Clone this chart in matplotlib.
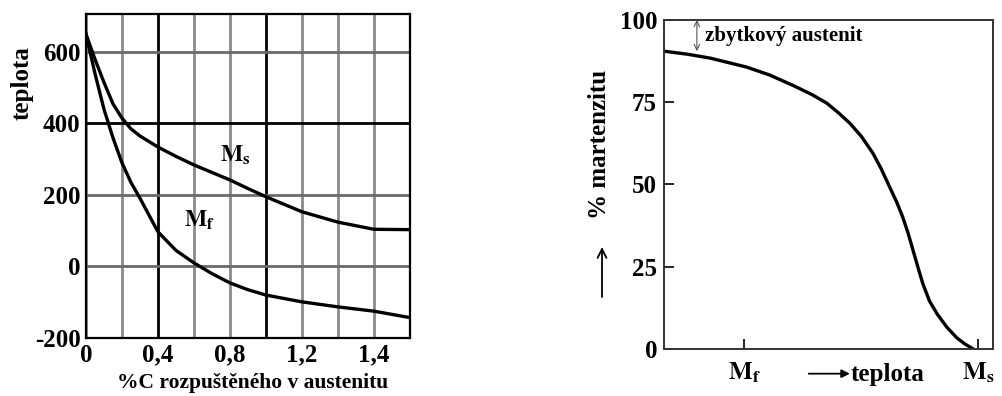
import numpy as np
import matplotlib
matplotlib.use("Agg")
import matplotlib.pyplot as plt

plt.rcParams["font.family"] = ["Liberation Serif", "DejaVu Serif"]
plt.rcParams["font.weight"] = "bold"
plt.rcParams["mathtext.fontset"] = "stix"
plt.rcParams["axes.unicode_minus"] = False

# ------------------------------------------------
# data: left panel (Ms / Mf vs carbon content)
# ------------------------------------------------
carbon = [0.0, 0.05, 0.1, 0.15, 0.2, 0.25, 0.3, 0.4, 0.5, 0.6, 0.7, 0.8,
          0.9, 1.0, 1.2, 1.4, 1.6, 1.8]
ms_temp = [650, 580, 515, 455, 415, 385, 365, 334, 308, 284, 263, 242,
           218, 195, 153, 124, 104, 103]
mf_temp = [650, 540, 440, 360, 290, 235, 191, 97, 45, 10, -20, -46,
           -65, -80, -99, -113, -125, -143]

x_grid = [0.0, 0.2, 0.4, 0.6, 0.8, 1.0, 1.2, 1.4, 1.6, 1.8]
x_grid_dark = [0.4, 1.0]
y_grid = [0, 200, 600]
y_grid_dark = [400]
x_ticks = [0.0, 0.4, 0.8, 1.2, 1.6]
x_tick_labels = ["0", "0,4", "0,8", "1,2", "1,4"]
y_ticks = [-200, 0, 200, 400, 600]

# ------------------------------------------------
# data: right panel (% martensite vs temperature)
# ------------------------------------------------
temp = [0, 7, 14, 25, 32, 39, 45, 49.5, 53, 56.5, 60, 63.5, 66, 68.7,
        70.8, 72.6, 74.2, 75.7, 77.2, 78.7, 80.7, 83, 86, 89, 91.5, 94]
martensite = [90.5, 89.6, 88.4, 85.7, 83.3, 80.2, 77.3, 74.7, 71.8, 68.6,
              64.6, 59.5, 54.8, 49, 44.5, 40, 35.2, 30, 24.8, 19.8, 14.6,
              10.7, 6.6, 3.4, 1.5, 0]
mf_pos = 24.3
ms_pos = 95.4
pct_ticks = [0, 25, 50, 75, 100]

fig = plt.figure(figsize=(10.03, 3.96), dpi=100)

# ------------------------------------------------
# left panel
# ------------------------------------------------
ax1 = fig.add_axes([0.0857, 0.1465, 0.323, 0.818])
for xv in x_grid:
    c = "black" if xv in x_grid_dark else "#8a8a8a"
    ax1.axvline(xv, color=c, lw=2.0, zorder=1)
for yv in y_grid:
    ax1.axhline(yv, color="#6a6a6a", lw=2.0, zorder=1)
for yv in y_grid_dark:
    ax1.axhline(yv, color="black", lw=2.0, zorder=1)

ax1.plot(carbon, ms_temp, color="black", lw=2.4, zorder=3)
ax1.plot(carbon, mf_temp, color="black", lw=2.4, zorder=3)

ax1.set_xlim(0, 1.8)
ax1.set_ylim(-200, 706)
ax1.set_xticks(x_ticks)
ax1.set_xticklabels(x_tick_labels)
ax1.set_yticks(y_ticks)
ax1.tick_params(length=0, labelsize=18, pad=4)
for s in ax1.spines.values():
    s.set_linewidth(1.6)

ax1.text(0.83, 310, r"$\mathbf{M}_\mathbf{s}$", fontsize=17, ha="center",
         va="center", zorder=4)
ax1.text(0.63, 130, r"$\mathbf{M}_\mathbf{f}$", fontsize=17, ha="center",
         va="center", zorder=4)

fig.text(22 / 1003, 1 - 83 / 396, "teplota", rotation=90, fontsize=18,
         ha="center", va="center")
fig.text(253 / 1003, 1 - 383 / 396, "%C rozpuštěného v austenitu",
         fontsize=15.5, ha="center", va="center")

# ------------------------------------------------
# right panel
# ------------------------------------------------
ax2 = fig.add_axes([0.662, 0.1187, 0.328, 0.831])
ax2.plot(temp, martensite, color="black", lw=2.4)
ax2.set_xlim(0, 100)
ax2.set_ylim(0, 100)
ax2.set_yticks(pct_ticks)
ax2.set_xticks([mf_pos, ms_pos])
ax2.set_xticklabels([r"$\mathbf{M}_\mathbf{f}$", r"$\mathbf{M}_\mathbf{s}$"])
ax2.tick_params(direction="in", length=7, width=1.2, labelsize=18, pad=5)
ax2.tick_params(axis="x", pad=8)
for s in ax2.spines.values():
    s.set_linewidth(1.4)
    s.set_color("#333333")

ax2.annotate("", xy=(10, 100), xytext=(10, martensite[0]),
             arrowprops=dict(arrowstyle="<->", lw=0.8, color="#555555",
                             shrinkA=0, shrinkB=0))
ax2.text(12.5, 95, "zbytkový austenit", fontsize=15, va="center", ha="left")

ax2.text(56.8, -7.8, "teplota", fontsize=18, ha="left", va="center",
         clip_on=False)
ax2.annotate("", xy=(56.5, -7.5), xytext=(44, -7.5),
             arrowprops=dict(arrowstyle="-|>", lw=1.3, color="black",
                             shrinkA=0, shrinkB=0, mutation_scale=12),
             annotation_clip=False)

fig.text(600 / 1003, 1 - 144 / 396, "% martenzitu", rotation=90,
         fontsize=18, ha="center", va="center")
ax2.annotate("", xy=(602 / 1003, 1 - 247 / 396),
             xytext=(602 / 1003, 1 - 297 / 396),
             xycoords="figure fraction", textcoords="figure fraction",
             arrowprops=dict(arrowstyle="->", lw=1.3, color="black",
                             shrinkA=0, shrinkB=0, mutation_scale=16))

fig.savefig("out.png", dpi=100)
